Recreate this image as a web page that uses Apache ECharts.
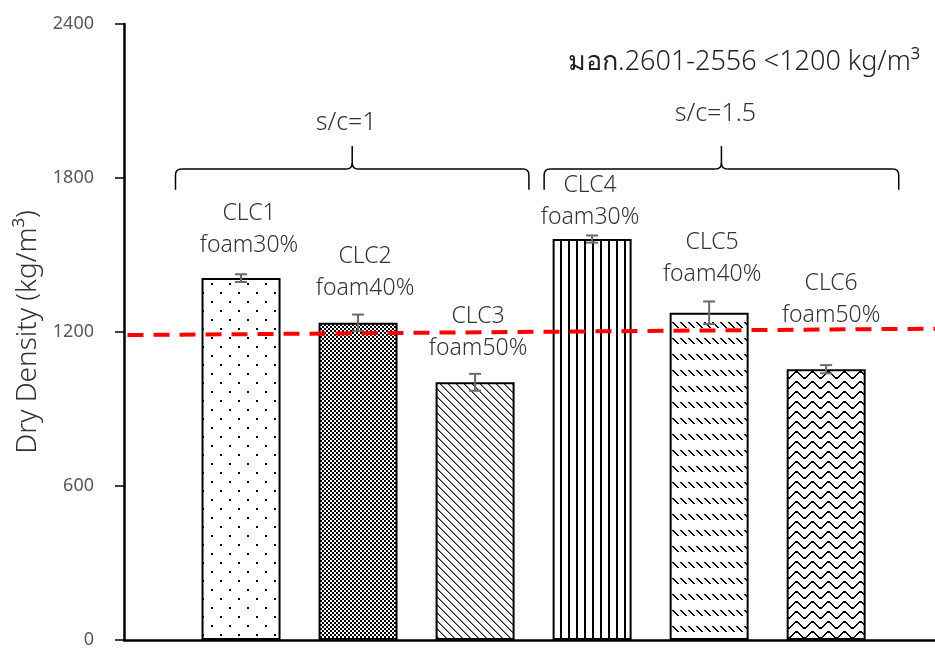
<!DOCTYPE html>
<html lang="th">
<head>
  <meta charset="UTF-8">
  <title>Dry Density</title>
  <script src="https://cdn.jsdelivr.net/npm/echarts@6.0.0/dist/echarts.min.js"></script>
  <style>
    html, body { margin: 0; padding: 0; background: #fff; }
    #chart { width: 935px; height: 649px; }
  </style>
</head>
<body>
  <div id="chart"></div>
  <script>
    // data
    var categories = ['CLC1', 'CLC2', 'CLC3', 'CLC4', 'CLC5', 'CLC6'];
    var foamLabels = ['foam30%', 'foam40%', 'foam50%', 'foam30%', 'foam40%', 'foam50%'];
    var densities = [1410, 1236, 1004, 1562, 1275, 1055];
    var errors = [15, 32, 33, 14, 44, 16];
    var limitLine = [1188, 1213];          // red dashed line, left end / right end
    var groupLabels = ['s/c=1', 's/c=1.5'];
    var groupMembers = [[1, 3], [4, 6]];   // first / last bar of each group
    var standardText = 'มอก.2601-2556 <1200 kg/m³';

    var FONT = '"Noto Sans", "DejaVu Sans", sans-serif';
    var TXT = '#333';

    // fill patterns (one per bar)
    function tile(w, h, draw) {
      var c = document.createElement('canvas');
      c.width = w; c.height = h;
      var ctx = c.getContext('2d');
      ctx.fillStyle = '#fff';
      ctx.fillRect(0, 0, w, h);
      ctx.fillStyle = '#000';
      draw(ctx);
      return { image: c, repeat: 'repeat' };
    }
    var patterns = [
      tile(18, 18, function (ctx) {           // dots
        ctx.fillRect(4, 4, 2, 2);
        ctx.fillRect(13, 13, 2, 2);
      }),
      tile(4, 4, function (ctx) {             // fine checker
        ctx.fillRect(0, 0, 2, 2);
        ctx.fillRect(2, 2, 2, 2);
      }),
      tile(8, 8, function (ctx) {             // diagonal lines
        ctx.fillStyle = '#222';
        for (var i = 0; i < 8; i++) ctx.fillRect(i, i, 1, 1);
        ctx.fillStyle = '#888';
        for (var j = 0; j < 8; j++) ctx.fillRect((j + 1) % 8, j, 1, 1);
      }),
      tile(8, 1, function (ctx) {             // vertical lines
        ctx.fillRect(0, 0, 2, 1);
      }),
      tile(8, 16, function (ctx) {            // short diagonal dashes
        for (var i = 0; i < 6; i++) ctx.fillRect(i, 2 + i, 2, 1);
      }),
      tile(16, 10, function (ctx) {           // waves
        for (var x = 0; x < 16; x++) {
          var y = Math.round(4 + 3 * Math.sin(2 * Math.PI * x / 16));
          ctx.fillRect(x, y, 1, 2);
        }
      })
    ];

    // label offsets (px) so the two-line labels sit where they do in the figure
    var labelOffsets = [[8, -17], [7, -18], [3, -18], [-2, -6], [3, -22], [5, -38]];

    var barData = densities.map(function (v, i) {
      return {
        value: [i + 1, v],
        itemStyle: { color: patterns[i] },
        label: { offset: labelOffsets[i] }
      };
    });
    var errData = densities.map(function (v, i) { return [i + 1, v - errors[i], v + errors[i]]; });

    var chart = echarts.init(document.getElementById('chart'));
    chart.setOption({
      animation: false,
      textStyle: { fontFamily: FONT },
      grid: { left: 124, right: 0, top: 24, bottom: 5 },
      xAxis: {
        type: 'value', min: 0, max: 6.93,
        axisLine: { show: true, lineStyle: { color: '#000', width: 2.5 } },
        axisTick: { show: false }, axisLabel: { show: false }, splitLine: { show: false }
      },
      yAxis: {
        type: 'value', min: 0, max: 2400, interval: 600,
        name: 'Dry Density (kg/m³)', nameLocation: 'middle', nameGap: 80,
        nameTextStyle: { fontSize: 28, color: TXT, fontFamily: FONT, fontWeight: 300 },
        axisLine: { show: true, lineStyle: { color: '#000', width: 2.5 } },
        axisTick: { show: true, inside: false, length: 9, lineStyle: { color: '#000', width: 1.5 } },
        axisLabel: { fontSize: 18, color: '#595959', margin: 30, fontFamily: FONT,
          formatter: function (v) { return String(v); } },
        splitLine: { show: false }
      },
      series: [
        {
          type: 'bar', data: barData, barWidth: 79,
          itemStyle: { borderColor: '#000', borderWidth: 2 },
          label: {
            show: true, position: 'top', distance: 0,
            fontSize: 23, color: TXT, fontFamily: FONT, lineHeight: 32, fontWeight: 300,
            formatter: function (p) { return categories[p.dataIndex] + '\n' + foamLabels[p.dataIndex]; }
          },
          z: 2
        },
        {
          type: 'custom', data: errData, z: 4,
          renderItem: function (params, api) {
            var x = api.value(0);
            var lo = api.coord([x, api.value(1)]);
            var hi = api.coord([x, api.value(2)]);
            var w = 6;
            var st = { stroke: '#6a6a6a', lineWidth: 2 };
            return {
              type: 'group', children: [
                { type: 'line', shape: { x1: hi[0], y1: hi[1], x2: lo[0], y2: lo[1] }, style: st },
                { type: 'line', shape: { x1: hi[0] - w, y1: hi[1], x2: hi[0] + w, y2: hi[1] }, style: st },
                { type: 'line', shape: { x1: lo[0] - w, y1: lo[1], x2: lo[0] + w, y2: lo[1] }, style: st }
              ]
            };
          }
        },
        {
          type: 'line', data: [[0.03, limitLine[0]], [6.93, limitLine[1]]],
          symbol: 'none', z: 5,
          lineStyle: { color: '#ff0000', width: 4, type: [16, 10] }
        }
      ]
    });

    // braces and annotation texts
    function px(x, y) { return chart.convertToPixel({ gridIndex: 0 }, [x, y]); }
    var padL = [0.56, 0.41], padR = [0.46, 0.62];
    var graphics = [];
    var bst = { fill: null, stroke: '#000', lineWidth: 1.5 };
    function seg(x1, y1, x2, y2) { return { type: 'line', shape: { x1: x1, y1: y1, x2: x2, y2: y2 }, style: bst }; }
    function curve(x1, y1, cx, cy, x2, y2) {
      return { type: 'bezierCurve', shape: { x1: x1, y1: y1, cpx1: cx, cpy1: cy, x2: x2, y2: y2 }, style: bst };
    }
    groupMembers.forEach(function (g, k) {
      var a = px(g[0] - padL[k], 1835);
      var b = px(g[1] + padR[k], 1835);
      var tip = px(0, 1754)[1], peak = px(0, 1925)[1];
      var x0 = a[0], x1 = b[0], yH = a[1], xm = (x0 + x1) / 2, r = 6;
      graphics.push(
        seg(x0, tip, x0, yH + r),
        curve(x0, yH + r, x0, yH, x0 + r, yH),
        seg(x0 + r, yH, xm - r, yH),
        curve(xm - r, yH, xm, yH, xm, yH - r),
        seg(xm, yH - r, xm, peak),
        curve(xm, yH - r, xm, yH, xm + r, yH),
        seg(xm + r, yH, x1 - r, yH),
        curve(x1 - r, yH, x1, yH, x1, yH + r),
        seg(x1, yH + r, x1, tip)
      );
      var t = px(0, k === 0 ? 2016 : 2051);
      graphics.push({
        type: 'text', x: xm - 6, y: t[1],
        style: { text: groupLabels[k], font: '300 25px ' + FONT, fill: TXT, align: 'center', verticalAlign: 'middle' }
      });
    });
    graphics.push({
      type: 'text', x: 920, y: 62,
      style: { text: standardText, font: '300 27px ' + FONT, fill: '#222', align: 'right', verticalAlign: 'middle' }
    });
    chart.setOption({ graphic: graphics });
  </script>
</body>
</html>
